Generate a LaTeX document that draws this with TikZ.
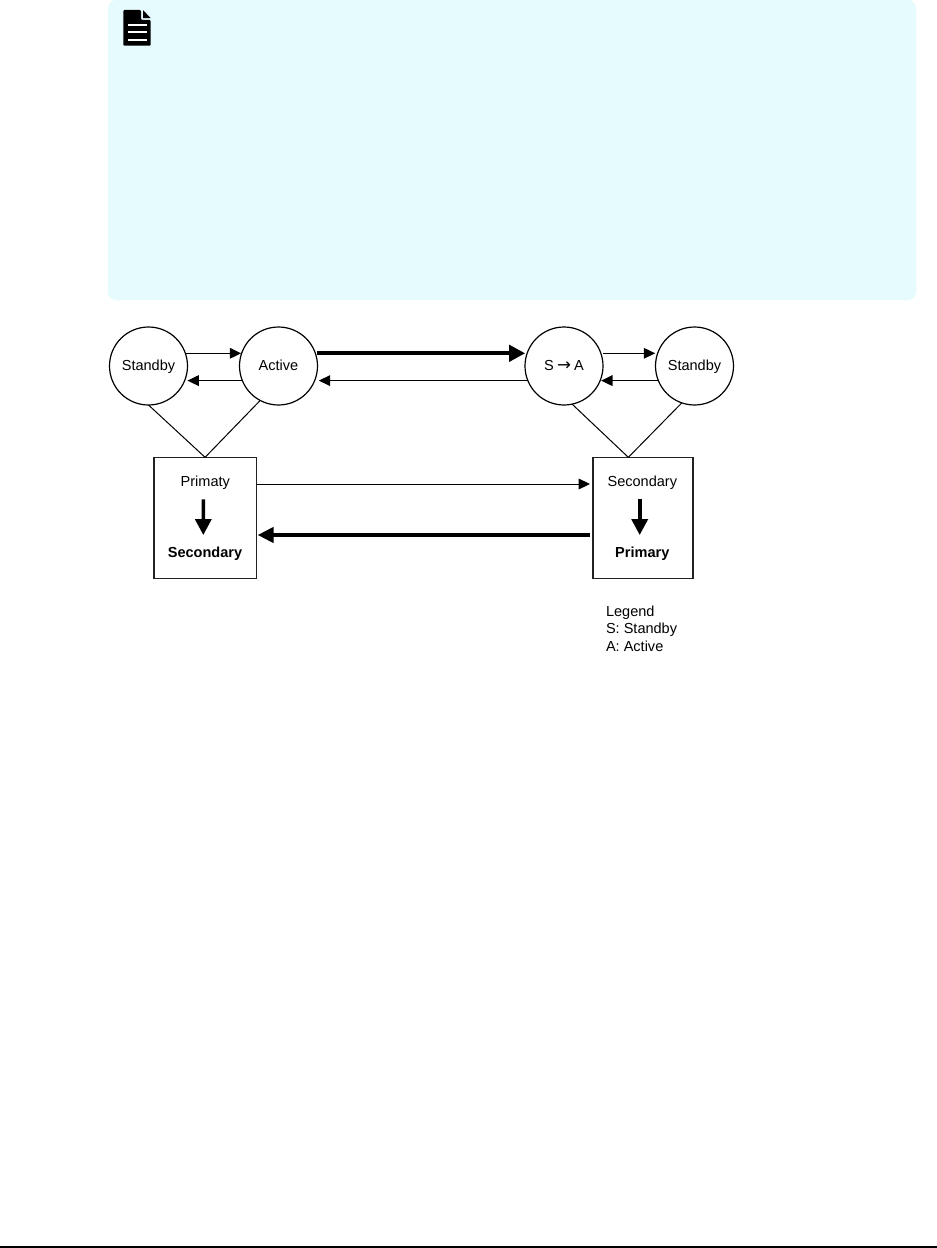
\documentclass[tikz,border=0pt]{standalone}
\usepackage{fontspec}
\setmainfont{Liberation Sans}
\newfontfamily\arrowfont{DejaVu Sans}
\usetikzlibrary{arrows.meta}
\definecolor{notebg}{HTML}{E5FBFD}
\definecolor{edgegrey}{HTML}{222222}
\tikzset{
  statecircle/.style={circle,draw=black,line width=0.9pt,fill=white,minimum size=58.5pt,inner sep=0pt,outer sep=0pt,
    font=\fontsize{10.9}{13.1}\selectfont,text height=10pt,text depth=3pt},
  sitebox/.style={rectangle,draw=edgegrey,line width=0.9pt,minimum height=91pt,inner sep=0pt,outer sep=0pt},
  lbl/.style={anchor=base,inner sep=0pt,outer sep=0pt,font=\fontsize{10.9}{13.1}\selectfont},
  thinarrow/.style={line width=0.85pt,-{Triangle[length=8.5pt,width=8pt]}},
  finearrow/.style={line width=0.7pt,-{Triangle[length=8.5pt,width=8pt]}},
  thickarrow/.style={line width=3pt,-{Triangle[length=12pt,width=12pt]}},
  midarrow/.style={line width=2.7pt,-{Triangle[length=12pt,width=11.5pt]}},
  downarrow/.style={line width=2.7pt,-{Triangle[length=12pt,width=12pt]}},
  joinline/.style={line width=0.75pt,draw=black}
}
\begin{document}
\begin{tikzpicture}[x=0.75pt,y=-0.75pt]
\useasboundingbox (0,0) rectangle (937,1248);
\fill[white] (0,0) rectangle (937,1248);
% note panel
\fill[notebg,rounded corners=6pt] (108,0) rectangle (916,300);
% note icon
\fill[black,rounded corners=0.8pt] (123.3,10) -- (141,10) -- (141,20) -- (150.7,20) -- (150.7,45.7) -- (123.3,45.7) -- cycle;
\fill[black] (143,10) -- (150.7,18.2) -- (143,18.2) -- cycle;
\fill[white] (128,24.2) rectangle (146.5,26.2);
\fill[white] (128,31.4) rectangle (146.5,33.4);
\fill[white] (128,38.6) rectangle (146.5,40.6);
% footer rule
\fill[black] (0,1246) rectangle (937,1248);
% sites
\node[sitebox,minimum width=77pt] (prim) at (205.35,518) {};
\node[sitebox,minimum width=75pt] (secd) at (643,518) {};
% circles
\node[statecircle] (s1) at (148.5,366) {Standby};
\node[statecircle] (a1) at (278.5,366) {Active};
\node[statecircle] (s2) at (564,366) {S\hspace{0.22em}{\arrowfont\fontsize{12.5}{13}\selectfont →}\hspace{0.22em}A};
\node[statecircle] (a2) at (694.5,366) {Standby};
% box labels
\node[lbl] (t1) at (205.3,486.7) {Primaty};
\node[lbl] (b1) at (205,557.7) {\textbf{Secondary}};
\node[lbl] (t2) at (642.3,486.7) {Secondary};
\node[lbl] (b2) at (642.3,557.7) {\textbf{Primary}};
\node[anchor=base west,inner sep=0pt,outer sep=0pt,align=left,font=\fontsize{10.9}{13.1}\selectfont] (leg) at (606,651) {Legend\\S: Standby\\A: Active};
% join lines
\draw[joinline] (s1.270) -- ([xshift=-0.2pt]prim.north);
\draw[joinline] (a1.242) -- ([xshift=-0.2pt]prim.north);
\draw[joinline] (s2.282.6) -- ([xshift=-11pt]secd.north);
\draw[joinline] (a2.251.4) -- ([xshift=-11pt]secd.north);
% circle arrows
\draw[thinarrow,shorten >=0.5pt] (s1.19.5) -- (s1.19.5 -| a1.160.5);
\draw[thinarrow,shorten >=2.1pt] (a1.202.6) -- (a1.202.6 -| s1.-22.6);
\draw[thickarrow,shorten <=1.3pt,shorten >=1.6pt] (a1.19.5) -- (a1.19.5 -| s2.160.5);
\draw[finearrow,shorten >=3.1pt] (s2.202.6) -- (s2.202.6 -| a1.-22.6);
\draw[finearrow,shorten <=1.6pt,shorten >=2pt] (s2.19.5) -- (s2.19.5 -| a2.160.5);
\draw[thinarrow,shorten >=0.75pt] (a2.202.6) -- (a2.202.6 -| s2.-22.6);
% box arrows
\draw[finearrow,shorten >=2.25pt] ([yshift=25.5pt]prim.east) -- ([yshift=25.5pt]secd.west);
\draw[midarrow,shorten <=2.25pt,shorten >=0.75pt] ([yshift=-12.75pt]secd.west) -- ([yshift=-12.75pt]prim.east);
% role change arrows
\draw[downarrow] ([xshift=-1.5pt,yshift=-9.45pt]t1.base) -- ([xshift=-1.275pt,yshift=17pt]b1.base);
\draw[downarrow] ([xshift=-1.95pt,yshift=-9.45pt]t2.base) -- ([xshift=-1.95pt,yshift=17pt]b2.base);
\end{tikzpicture}
\end{document}
